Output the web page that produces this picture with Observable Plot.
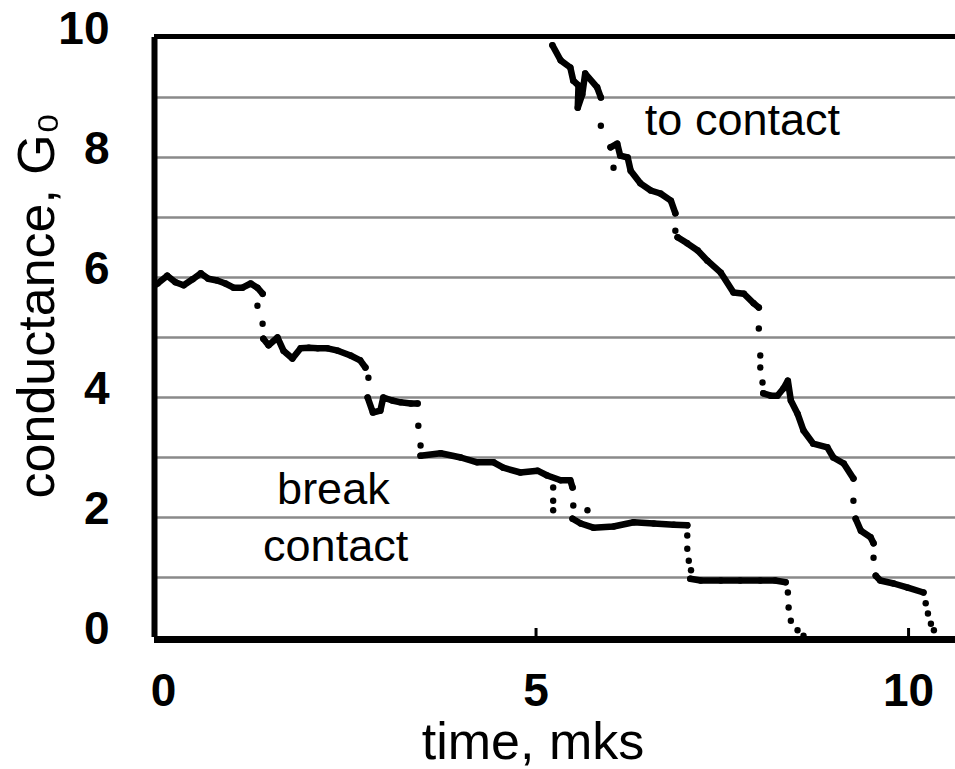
<!DOCTYPE html>
<html>
<head>
<meta charset="utf-8">
<script src="https://cdn.jsdelivr.net/npm/d3@7"></script>
<script src="https://cdn.jsdelivr.net/npm/@observablehq/plot@0.6"></script>
<style>
  html, body { margin: 0; padding: 0; background: #fff; }
  #chart svg { display: block; }
</style>
</head>
<body>
<div id="chart"></div>
<script>
// ---- Data ----
// "break contact" trace: time (mks), conductance (G0), plateau segment id (0 = isolated dot)
const breakT = [-0.11,-0.08,0.05,0.16,0.27,0.39,0.50,0.60,0.72,0.83,0.94,1.06,1.17,1.26,1.33,
  1.26,1.33,
  1.34,1.41,1.53,1.61,1.73,1.84,1.95,2.07,2.20,2.34,2.51,2.64,2.71,
  2.75,
  2.74,2.81,2.91,2.95,3.07,3.18,3.32,3.41,
  3.42,3.45,
  3.45,3.72,3.99,4.21,4.43,4.56,4.79,5.02,5.15,5.33,5.46,5.49,
  5.23,5.23,5.23,5.50,5.69,
  5.49,5.60,5.77,6.04,6.31,6.58,6.85,7.03,
  7.03,7.03,7.05,7.08,
  7.07,7.21,7.48,7.74,8.01,8.21,8.35,
  8.38,8.39,8.42,8.51,8.59];
const breakG = [5.88,5.90,6.03,5.92,5.87,5.97,6.07,5.98,5.95,5.90,5.83,5.83,5.90,5.83,5.73,
  5.53,5.23,
  4.98,4.87,5.00,4.78,4.65,4.82,4.83,4.82,4.82,4.78,4.70,4.62,4.50,
  4.33,
  4.00,3.75,3.78,4.00,3.95,3.92,3.90,3.90,
  3.53,3.20,
  3.03,3.07,3.00,2.92,2.92,2.83,2.75,2.78,2.70,2.62,2.62,2.50,
  2.50,2.28,2.12,2.20,2.12,
  1.98,1.90,1.83,1.85,1.92,1.90,1.88,1.87,
  1.70,1.48,1.28,1.12,
  0.98,0.95,0.95,0.95,0.95,0.95,0.92,
  0.75,0.50,0.28,0.12,0.03];
const breakSeg = [1,1,1,1,1,1,1,1,1,1,1,1,1,1,1,
  0,0,
  2,2,2,2,2,2,2,2,2,2,2,2,2,
  0,
  3,3,3,3,3,3,3,3,
  0,0,
  4,4,4,4,4,4,4,4,4,4,4,4,
  0,0,0,0,0,
  5,5,5,5,5,5,5,5,
  0,0,0,0,
  6,6,6,6,6,6,6,
  0,0,0,0,0];

// "to contact" trace
const toT = [5.22,5.33,5.46,5.50,5.57,5.56,5.62,5.66,5.82,5.87,
  5.87,
  6.00,6.09,6.13,6.23,6.27,6.40,6.54,6.67,6.81,6.87,
  6.04,6.87,
  6.90,7.03,7.17,7.30,7.48,7.65,7.79,7.92,7.99,
  7.99,8.01,8.01,8.04,
  8.05,8.15,8.24,8.32,8.38,8.42,8.51,8.59,8.72,8.91,8.99,9.13,9.26,
  9.26,
  9.29,9.36,9.49,9.53,
  9.53,
  9.56,9.62,9.80,9.99,10.20,
  10.23,10.26,10.30,10.34];
const toG = [9.87,9.62,9.50,9.28,9.20,8.83,9.05,9.40,9.17,9.00,
  8.53,
  8.17,8.23,8.03,8.00,7.78,7.57,7.45,7.40,7.28,7.07,
  7.83,6.78,
  6.67,6.57,6.45,6.28,6.08,5.75,5.73,5.57,5.50,
  5.15,4.70,4.50,4.25,
  4.07,4.03,4.03,4.15,4.28,3.95,3.73,3.45,3.23,3.17,3.00,2.90,2.65,
  2.28,
  1.98,1.78,1.67,1.57,
  1.33,
  1.03,0.95,0.90,0.83,0.75,
  0.57,0.40,0.23,0.12];
const toSeg = [1,1,1,1,1,1,1,1,1,1,
  0,
  2,2,2,2,2,2,2,2,2,2,
  0,0,
  3,3,3,3,3,3,3,3,3,
  0,0,0,0,
  4,4,4,4,4,4,4,4,4,4,4,4,4,
  0,
  5,5,5,5,
  0,
  6,6,6,6,6,
  0,0,0,0];

// Axes / labels
const xTicks = [0, 5, 10];
const yTicks = [0, 2, 4, 6, 8, 10];
const gridValues = [1, 2, 3, 4, 5, 6, 7, 8, 9];
const xDomain = [-0.121, 10.63];
const yDomain = [0, 10];
const xTitle = ["time, mks"];
const yTitle = ["conductance, G\u2080"];
const notes = [
  {t: 7.77, G: 8.37, text: "to contact"},
  {t: 2.28, G: 2.23, text: "break"},
  {t: 2.31, G: 1.28, text: "contact"}
];

// ---- Build tables ----
const breakData = breakT.map((t, i) => ({t, G: breakG[i], seg: breakSeg[i]}));
const toData = toT.map((t, i) => ({t, G: toG[i], seg: toSeg[i]}));
const allData = breakData.map(d => ({...d, series: "break"})).concat(toData.map(d => ({...d, series: "to"})));
const lineData = allData.filter(d => d.seg > 0);

const font = "'Liberation Sans', Arial, Helvetica, sans-serif";

const chart = Plot.plot({
  width: 955,
  height: 769,
  marginLeft: 154,
  marginRight: 0,
  marginTop: 37,
  marginBottom: 132,
  style: {fontFamily: font, background: "#fff", color: "#000"},
  x: {domain: xDomain},
  y: {domain: yDomain},
  marks: [
    Plot.ruleY(gridValues, {stroke: "#8a8a8a", strokeWidth: 2.5}),
    Plot.line(lineData, {x: "t", y: "G", z: d => d.series + d.seg, stroke: "#000", strokeWidth: 6.5,
      strokeLinejoin: "round", strokeLinecap: "round"}),
    Plot.dot(allData, {x: "t", y: "G", r: 3.2, fill: "#000", stroke: "none"}),
    // frame
    Plot.ruleY([yDomain[1]], {stroke: "#000", strokeWidth: 5, dy: -1}),
    Plot.ruleY([yDomain[0]], {stroke: "#000", strokeWidth: 7, dy: 2}),
    Plot.ruleX([xDomain[0]], {stroke: "#000", strokeWidth: 6, y1: yDomain[0], y2: yDomain[1]}),
    Plot.ruleX(xTicks.filter(v => v > 0), {y1: 0, y2: 0.15, stroke: "#000", strokeWidth: 3}),
    Plot.axisY({ticks: yTicks, tickSize: 0, tickPadding: 45, fontSize: 46, fontWeight: "bold",
      dy: -8, label: null}),
    Plot.axisX({ticks: xTicks, tickSize: 0, tickPadding: 36, fontSize: 46, fontWeight: "bold",
      label: null}),
    // annotations
    Plot.text(notes, {x: "t", y: "G", text: "text", fontSize: 45, lineAnchor: "bottom",
      textAnchor: "middle", fill: "#000"}),
    // axis titles
    Plot.text(xTitle, {text: d => d, frameAnchor: "bottom", dx: -22, dy: 121, lineAnchor: "bottom",
      fontSize: 52, fill: "#000"}),
    Plot.text(yTitle, {text: d => d, frameAnchor: "left", dx: -101, dy: -32, rotate: -90,
      textAnchor: "middle", lineAnchor: "bottom", fontSize: 52, fill: "#000"})
  ]
});
document.getElementById("chart").appendChild(chart);
</script>
</body>
</html>
